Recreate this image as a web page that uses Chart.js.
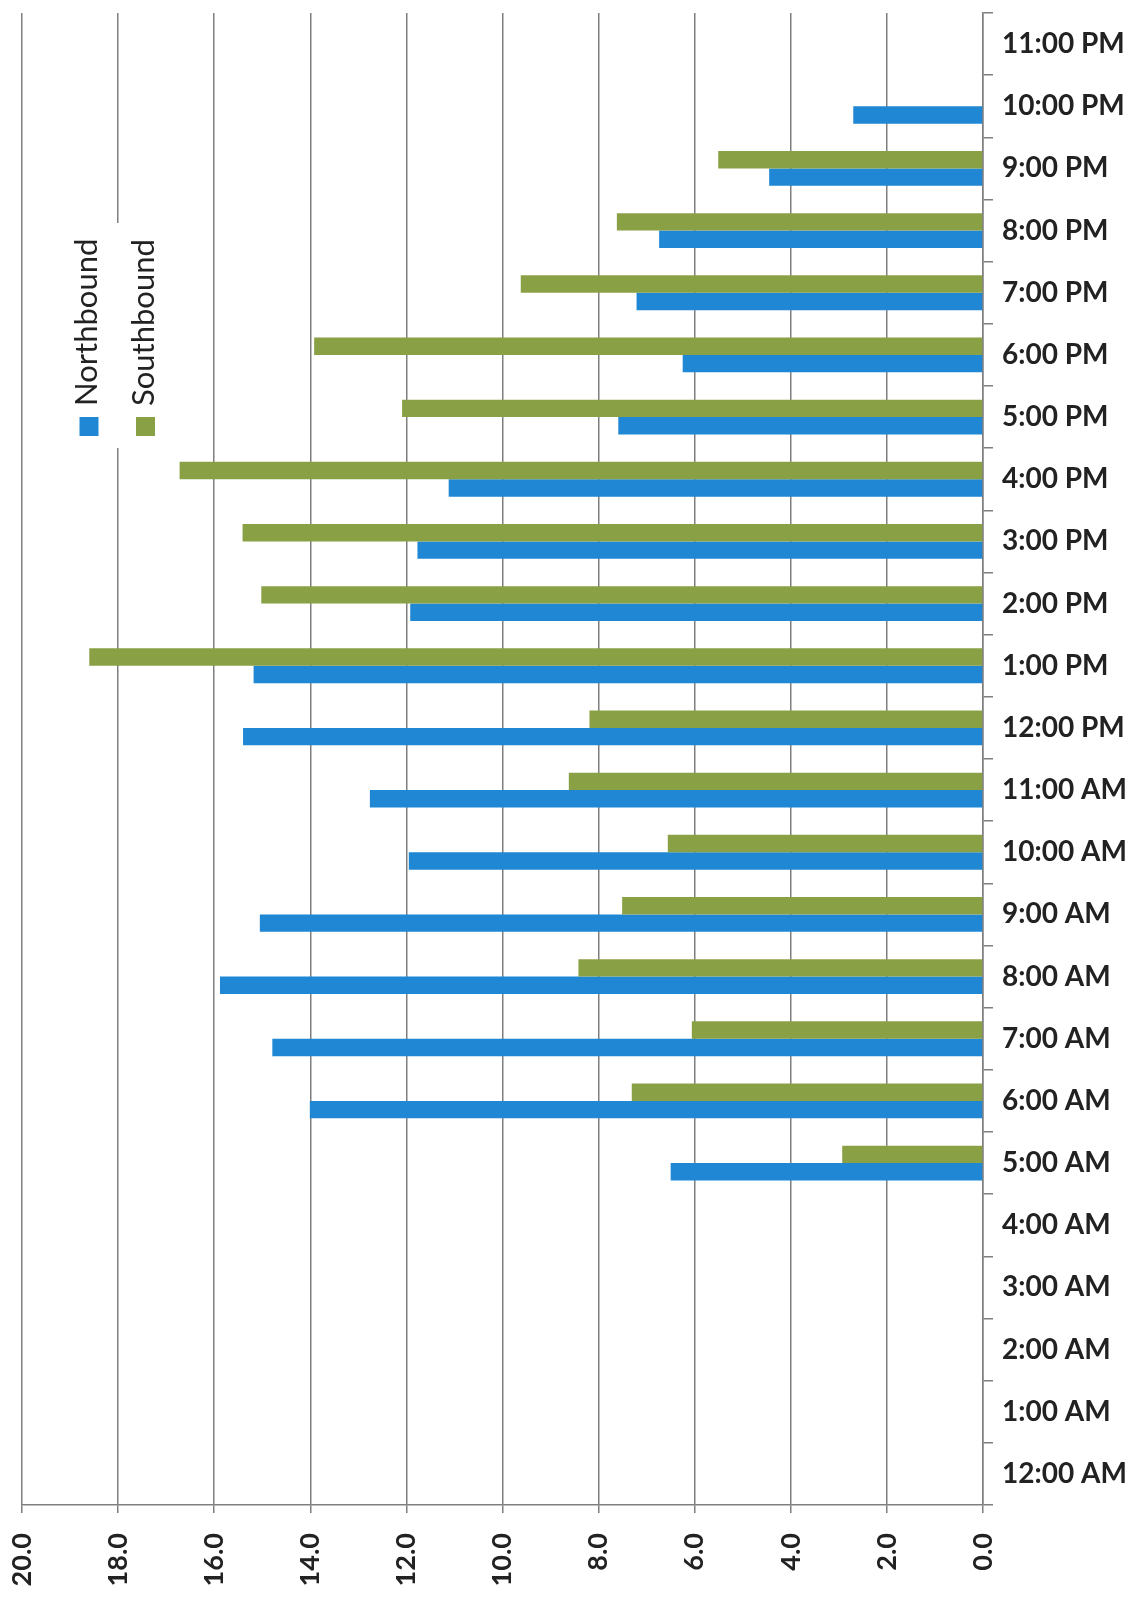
<!DOCTYPE html>
<html>
<head>
<meta charset="utf-8">
<script src="https://cdn.jsdelivr.net/npm/chart.js@4/dist/chart.umd.min.js"></script>
<style>
    body { margin: 0; background: #fff; }
</style>
</head>
<body>
<canvas id="hourChart" width="1144" height="1607"></canvas>
<script>
const hours = ['12:00 AM', '1:00 AM', '2:00 AM', '3:00 AM', '4:00 AM', '5:00 AM',
    '6:00 AM', '7:00 AM', '8:00 AM', '9:00 AM', '10:00 AM', '11:00 AM',
    '12:00 PM', '1:00 PM', '2:00 PM', '3:00 PM', '4:00 PM', '5:00 PM',
    '6:00 PM', '7:00 PM', '8:00 PM', '9:00 PM', '10:00 PM', '11:00 PM'];
const northbound = [null, null, null, null, null, 6.50,
    14.01, 14.79, 15.88, 15.05, 11.95, 12.76,
    15.40, 15.18, 11.92, 11.77, 11.12, 7.59,
    6.25, 7.21, 6.74, 4.45, 2.70, null];
const southbound = [null, null, null, null, null, 2.93,
    7.31, 6.06, 8.42, 7.51, 6.56, 8.62,
    8.19, 18.60, 15.02, 15.41, 16.72, 12.09,
    13.92, 9.62, 7.62, 5.51, null, null];
const valueTicks = [0, 2, 4, 6, 8, 10, 12, 14, 16, 18, 20];
const seriesNames = ['Northbound', 'Southbound'];

const BLUE = '#1f87d3';
const GREEN = '#89a045';
const GRID = '#7f7f7f';

class chart {
    constructor() {
        this.init();
    }
    init() {
        this.barChart();
    }

    // legend sits inside the plot, turned on its side like the rest of the text
    sideLegend() {
        return {
            id: 'sideLegend',
            afterDraw: (c) => {
                const ctx = c.ctx;
                ctx.save();
                ctx.fillStyle = '#fff';
                ctx.fillRect(62, 223, 108, 225);
                const cols = [{x: 89, color: BLUE}, {x: 145.5, color: GREEN}];
                cols.forEach((col, i) => {
                    ctx.fillStyle = col.color;
                    ctx.fillRect(col.x - 9.5, 417, 19, 19);
                    ctx.save();
                    ctx.translate(col.x + 8, 406);
                    ctx.rotate(-Math.PI / 2);
                    ctx.fillStyle = '#222';
                    ctx.font = '31px Lato';
                    ctx.textAlign = 'left';
                    ctx.textBaseline = 'alphabetic';
                    ctx.fillText(seriesNames[i], 0, 0);
                    ctx.restore();
                });
                ctx.restore();
            }
        };
    }

    barChart() {
        const ctx = document.getElementById('hourChart').getContext('2d');
        this.myBarChart = new Chart(ctx, {
            type: 'bar',
            data: {
                labels: hours,
                datasets: [{
                    label: seriesNames[1],
                    data: southbound,
                    backgroundColor: GREEN,
                    borderWidth: 0
                }, {
                    label: seriesNames[0],
                    data: northbound,
                    backgroundColor: BLUE,
                    borderWidth: 0
                }]
            },
            options: {
                indexAxis: 'y',
                responsive: false,
                animation: false,
                categoryPercentage: 0.56,
                barPercentage: 1.0,
                layout: {
                    padding: {top: 13, left: 22, right: 0, bottom: 0}
                },
                plugins: {
                    legend: {display: false},
                    tooltip: {enabled: false}
                },
                scales: {
                    x: {
                        position: 'bottom',
                        reverse: true,
                        min: 0,
                        max: 20,
                        afterFit: (scale) => {
                            scale.height = 102;
                            scale.paddingLeft = 0;
                            scale.paddingRight = 0;
                        },
                        afterBuildTicks: (scale) => {
                            scale.ticks = valueTicks.map(v => ({value: v}));
                        },
                        grid: {
                            color: GRID,
                            lineWidth: 1.5,
                            tickLength: 8
                        },
                        border: {color: GRID, width: 1.5},
                        ticks: {
                            autoSkip: false,
                            minRotation: 90,
                            maxRotation: 90,
                            padding: 20,
                            color: '#222',
                            font: {family: 'Lato', weight: 'bold', size: 27},
                            callback: function (value) {
                                return Number(value).toFixed(1);
                            }
                        }
                    },
                    y: {
                        position: 'right',
                        reverse: true,
                        afterFit: (scale) => {
                            scale.width = 161;
                            scale.paddingTop = 0;
                            scale.paddingBottom = 0;
                        },
                        grid: {
                            drawOnChartArea: false,
                            color: GRID,
                            lineWidth: 1.5,
                            tickLength: 10
                        },
                        border: {color: GRID, width: 1.5},
                        ticks: {
                            autoSkip: false,
                            padding: 9,
                            color: '#222',
                            font: {family: 'Lato', weight: 'bold', size: 28}
                        }
                    }
                }
            },
            plugins: [this.sideLegend()]
        });
    }
}

new chart();
</script>
</body>
</html>
